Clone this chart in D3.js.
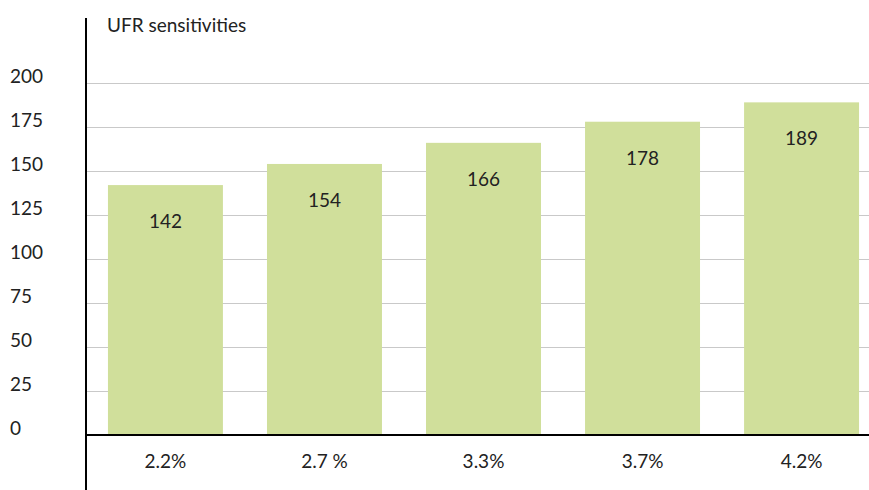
<!DOCTYPE html>
<html>
<head>
<meta charset="utf-8">
<script src="https://cdn.jsdelivr.net/npm/d3@7/dist/d3.min.js"></script>
<style>
  html, body { margin: 0; padding: 0; background: #fff; }
  svg { display: block; font-family: Lato, "Noto Sans", sans-serif; }
</style>
</head>
<body>
<svg id="chart" width="869" height="490"></svg>
<script>
// UFR sensitivity values per ultimate forward rate scenario
const categories = ["2.2%", "2.7 %", "3.3%", "3.7%", "4.2%"];
const values = [142, 154, 166, 178, 189];
const yTicks = [0, 25, 50, 75, 100, 125, 150, 175, 200];
const title = "UFR sensitivities";

const svg = d3.select("#chart");
const W = 869, H = 490;
const axisX = 86, baseY = 435;

const x = d3.scaleBand()
  .domain(categories)
  .range([axisX, 881])
  .paddingInner(0.277)
  .paddingOuter(0.138);

const y = d3.scaleLinear()
  .domain([0, 200])
  .range([baseY, 83]);

// horizontal gridlines
svg.append("g")
  .selectAll("line")
  .data(yTicks.filter(d => d > 0))
  .join("line")
  .attr("x1", axisX + 1).attr("x2", W)
  .attr("y1", d => Math.round(y(d)) + 0.5).attr("y2", d => Math.round(y(d)) + 0.5)
  .attr("stroke", "#c9c9c9").attr("stroke-width", 1);

// y tick labels, left aligned, sitting on their gridline
svg.append("g")
  .selectAll("text")
  .data(yTicks)
  .join("text")
  .attr("x", 10)
  .attr("y", d => y(d))
  .attr("font-size", 19)
  .attr("fill", "#222")
  .text(d => d);

// bars
svg.append("g")
  .selectAll("rect")
  .data(values)
  .join("rect")
  .attr("x", (d, i) => x(categories[i]))
  .attr("width", x.bandwidth())
  .attr("y", d => y(d))
  .attr("height", d => baseY - y(d))
  .attr("fill", "#d0df9b");

// value labels inside the bars
svg.append("g")
  .selectAll("text")
  .data(values)
  .join("text")
  .attr("x", (d, i) => x(categories[i]) + x.bandwidth() / 2)
  .attr("y", d => y(d) + 43)
  .attr("text-anchor", "middle")
  .attr("font-size", 19)
  .attr("fill", "#222")
  .text(d => d);

// category labels below the baseline
svg.append("g")
  .selectAll("text")
  .data(categories)
  .join("text")
  .attr("x", d => x(d) + x.bandwidth() / 2)
  .attr("y", 468)
  .attr("text-anchor", "middle")
  .attr("font-size", 19)
  .attr("fill", "#222")
  .text(d => d);

// baseline and vertical axis line
svg.append("line")
  .attr("x1", axisX).attr("x2", W)
  .attr("y1", baseY).attr("y2", baseY)
  .attr("stroke", "#000").attr("stroke-width", 2);
svg.append("line")
  .attr("x1", axisX).attr("x2", axisX)
  .attr("y1", 18).attr("y2", H)
  .attr("stroke", "#000").attr("stroke-width", 2);

// chart title
svg.append("text")
  .attr("x", 107)
  .attr("y", 32)
  .attr("font-size", 19)
  .attr("fill", "#222")
  .text(title);
</script>
</body>
</html>
